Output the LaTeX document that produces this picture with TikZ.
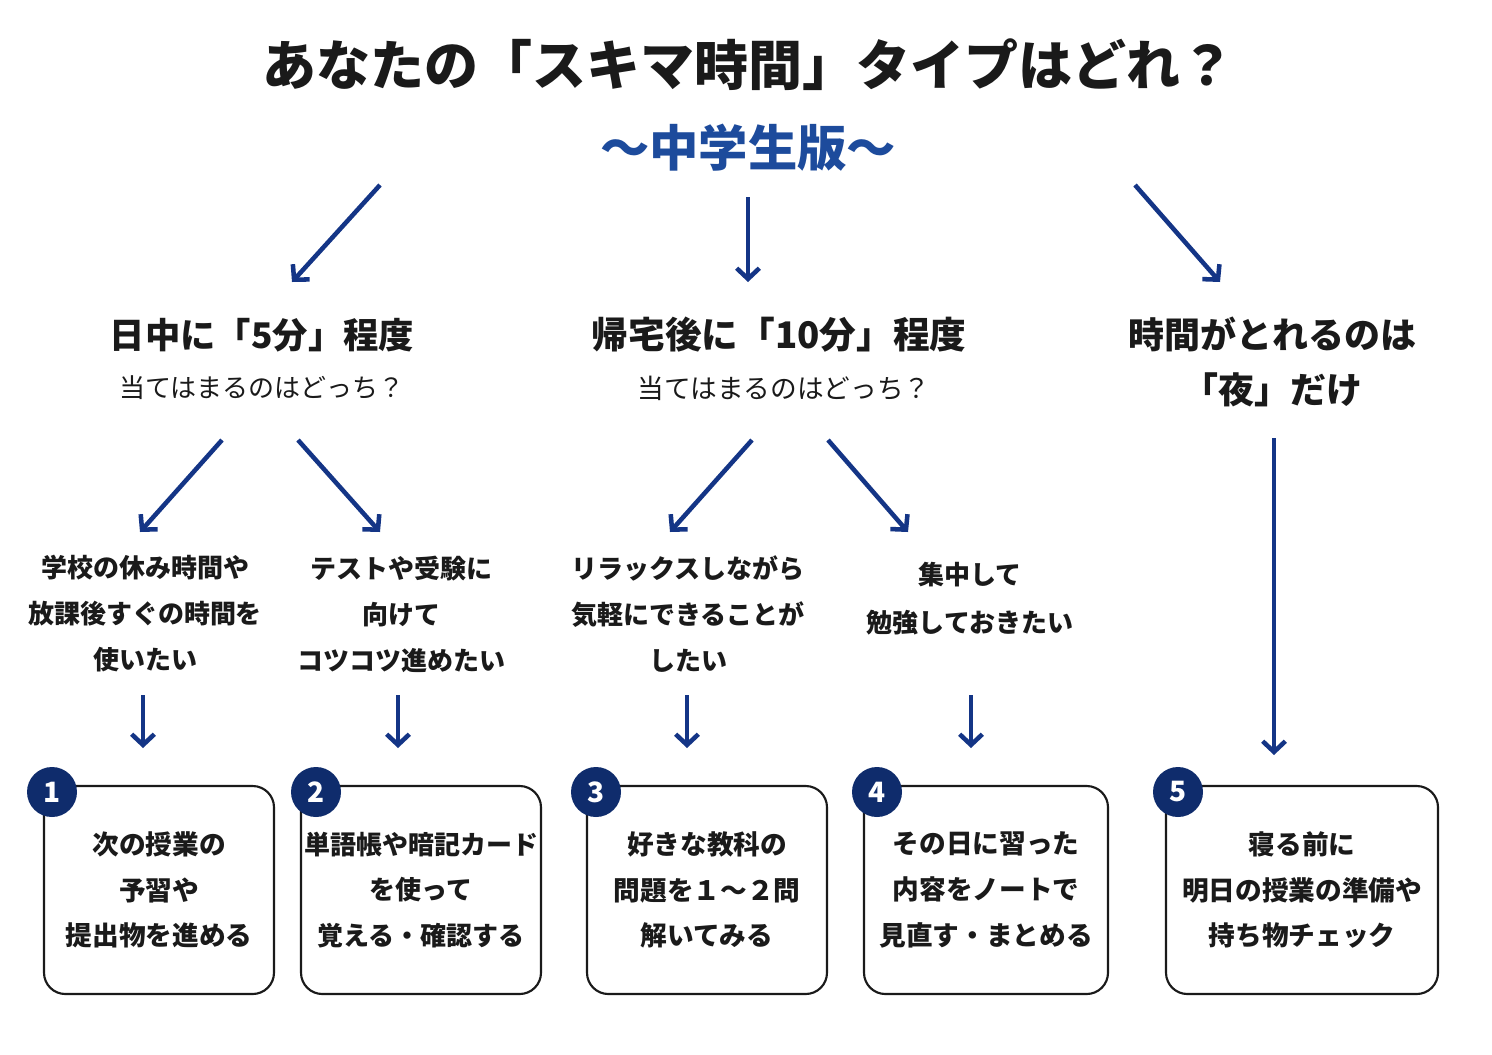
\documentclass[tikz,border=0pt]{standalone}
\usepackage{fontspec}
\setmainfont{Noto Sans CJK JP}
\usetikzlibrary{arrows.meta}
\definecolor{navy}{HTML}{143586}
\definecolor{circ}{HTML}{0F2C6C}
\definecolor{subblue}{HTML}{1D4B9C}
\definecolor{ink}{HTML}{1A1A1A}
\begin{document}
\begin{tikzpicture}[x=0.75pt,y=-0.75pt,
  arr/.style={draw=navy,line width=3.4pt,-{Straight Barb[length=8pt,width=17pt,line width=3.4pt]}},
  box/.style={draw=ink,line width=1.6pt,rounded corners=16pt,minimum height=156pt,align=center,
    inner xsep=0pt,text=ink,font=\fontsize{20pt}{34.2pt}\selectfont\bfseries},
  num/.style={circle,fill=circ,minimum size=37.5pt,inner sep=0pt,text=white,
    font=\fontsize{21pt}{24pt}\selectfont\bfseries},
  head/.style={text=ink,font=\fontsize{26.5pt}{30pt}\selectfont\bfseries,align=center},
  ques/.style={text=ink,font=\fontsize{19.5pt}{24pt}\selectfont},
  choice/.style={text=ink,align=center,font=\fontsize{19.5pt}{34.5pt}\selectfont\bfseries}
]
\useasboundingbox[fill=white] (0,0) rectangle (1492,1054);

% title
\node[text=ink,font=\fontsize{40.5pt}{44pt}\selectfont\bfseries] (title) at (748,65) {あなたの「スキマ時間」タイプはどれ？};
\node[text=subblue,font=\fontsize{37pt}{42pt}\selectfont\bfseries] (subtitle) at (748,148) {～中学生版～};

% top arrows
\coordinate (a1s) at (380,185); \coordinate (a1e) at (292,282);
\coordinate (a2s) at (748,197); \coordinate (a2e) at (748,282);
\coordinate (a3s) at (1135,185); \coordinate (a3e) at (1220,282);
\draw[arr] (a1s) -- (a1e);
\draw[arr] (a2s) -- (a2e);
\draw[arr] (a3s) -- (a3e);

% headings
\node[head] (h1) at (262,335) {日中に「5分」程度};
\node[ques] (q1) at (262,388) {当てはまるのはどっち？};
\node[head,font=\fontsize{27.5pt}{30pt}\selectfont\bfseries] (h2) at (779,335) {帰宅後に「10分」程度};
\node[ques,font=\fontsize{20pt}{24pt}\selectfont] (q2) at (784,388) {当てはまるのはどっち？};
\node[head,font=\fontsize{27pt}{41pt}\selectfont\bfseries] (h3) at (1272,362) {時間がとれるのは\\「夜」だけ};

% second level arrows
\coordinate (b1s) at (222,440); \coordinate (b1e) at (140,532);
\coordinate (b2s) at (298,440); \coordinate (b2e) at (380,532);
\coordinate (b3s) at (752,440); \coordinate (b3e) at (670,532);
\coordinate (b4s) at (828,440); \coordinate (b4e) at (908,532);
\coordinate (b5s) at (1274,438); \coordinate (b5e) at (1274,755);
\draw[arr] (b1s) -- (b1e);
\draw[arr] (b2s) -- (b2e);
\draw[arr] (b3s) -- (b3e);
\draw[arr] (b4s) -- (b4e);
\draw[arr] (b5s) -- (b5e);

% choices
\node[choice] (c1) at (145,614) {学校の休み時間や\\放課後すぐの時間を\\使いたい};
\node[choice] (c2) at (401,614) {テストや受験に\\向けて\\コツコツ進めたい};
\node[choice] (c3) at (688,614) {リラックスしながら\\気軽にできることが\\したい};
\node[choice,font=\fontsize{19.5pt}{36pt}\selectfont\bfseries] (c4) at (970,599) {集中して\\勉強しておきたい};

% small arrows
\coordinate (d1s) at (143,695); \coordinate (d1e) at (143,748);
\coordinate (d2s) at (398,695); \coordinate (d2e) at (398,748);
\coordinate (d3s) at (687,695); \coordinate (d3e) at (687,748);
\coordinate (d4s) at (971,695); \coordinate (d4e) at (971,748);
\draw[arr] (d1s) -- (d1e);
\draw[arr] (d2s) -- (d2e);
\draw[arr] (d3s) -- (d3e);
\draw[arr] (d4s) -- (d4e);

% boxes
\node[box,minimum width=172.5pt] (r1) at (159,890) {次の授業の\\予習や\\提出物を進める};
\node[box,minimum width=180pt,font=\fontsize{19.5pt}{34.2pt}\selectfont\bfseries] (r2) at (421,890) {単語帳や暗記カード\\を使って\\覚える・確認する};
\node[box,minimum width=180pt] (r3) at (707,890) {好きな教科の\\問題を１～２問\\解いてみる};
\node[box,minimum width=183pt] (r4) at (986,890) {その日に習った\\内容をノートで\\見直す・まとめる};
\node[box,minimum width=204pt] (r5) at (1302,890) {寝る前に\\明日の授業の準備や\\持ち物チェック};

% number badges
\node[num] (n1) at (52,792) {1};
\node[num] (n2) at (316,792) {2};
\node[num] (n3) at (596,792) {3};
\node[num] (n4) at (877,792) {4};
\node[num] (n5) at (1178,792) {5};
\end{tikzpicture}
\end{document}
